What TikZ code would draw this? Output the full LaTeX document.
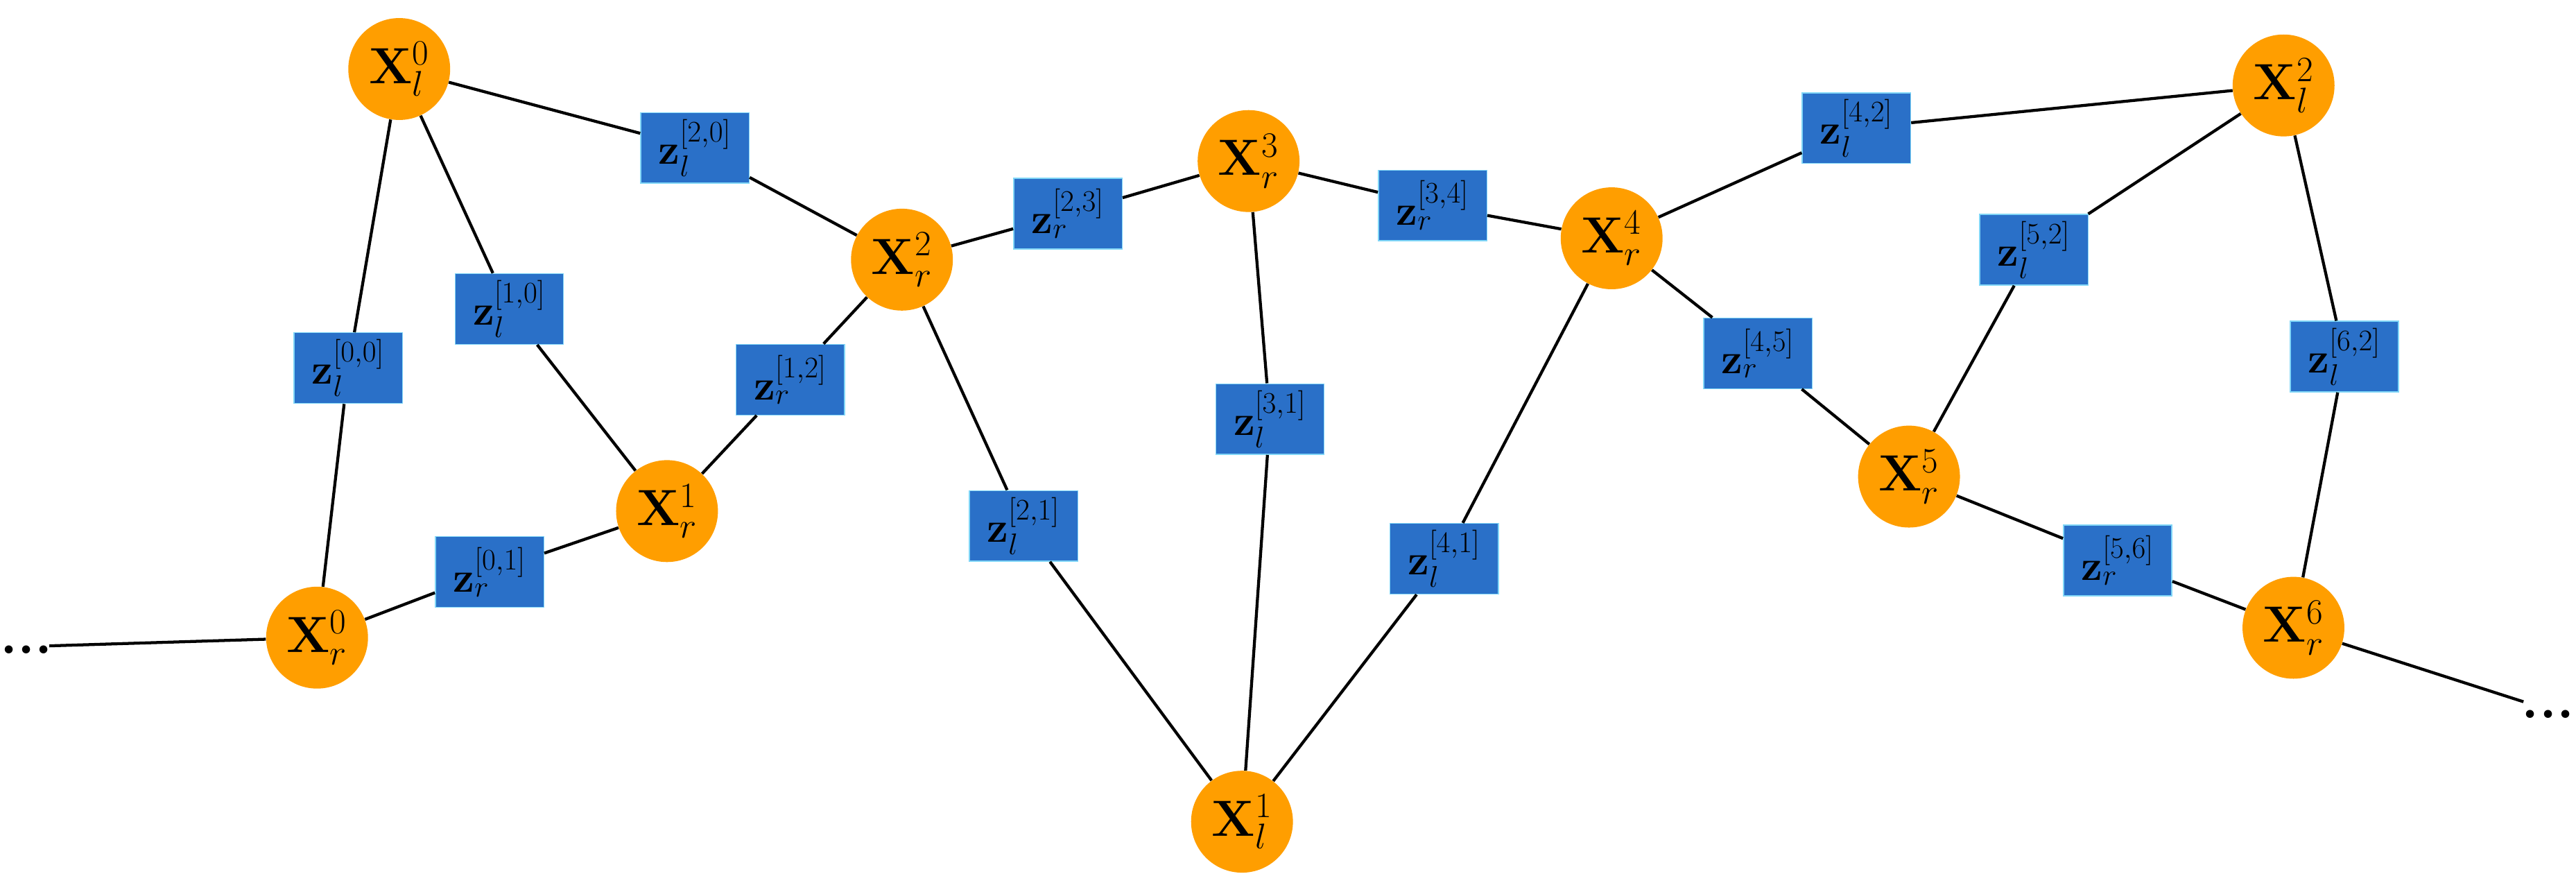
\RequirePackage{fix-cm}
\documentclass[tikz,border=0pt]{standalone}
\usepackage{amsmath}
\begin{document}
\begin{tikzpicture}[x=1pt,y=-1pt,
  v/.style={circle,fill=vorange,minimum size=62pt,inner sep=0pt,font=\fontsize{31}{34}\selectfont},
  f/.style={rectangle,fill=fblue,draw=cyan!50,line width=0.6pt,minimum width=66pt,minimum height=43pt,inner sep=0pt,font=\fontsize{26}{30}\selectfont},
  dots/.style={font=\fontsize{34}{36}\selectfont\bfseries,inner sep=0pt,anchor=base},
  e/.style={line width=1.8pt}]
\definecolor{vorange}{HTML}{FF9E00}
\definecolor{fblue}{HTML}{2A70C8}
\useasboundingbox (0,0) rectangle (1568,537);
\node[v] (Xl0) at (243,42) {$\mathbf{X}_l^0$};
\node[v] (Xr0) at (193,388) {$\mathbf{X}_r^0$};
\node[v] (Xr1) at (406,311) {$\mathbf{X}_r^1$};
\node[v] (Xr2) at (549,158) {$\mathbf{X}_r^2$};
\node[v] (Xr3) at (760,98) {$\mathbf{X}_r^3$};
\node[v] (Xr4) at (981,145) {$\mathbf{X}_r^4$};
\node[v] (Xl1) at (756,500) {$\mathbf{X}_l^1$};
\node[v] (Xl2) at (1390,52) {$\mathbf{X}_l^2$};
\node[v] (Xr5) at (1162,290) {$\mathbf{X}_r^5$};
\node[v] (Xr6) at (1396,382) {$\mathbf{X}_r^6$};
\node[f] (z20) at (423,90) {$\mathbf{z}_l^{[2,0]}$};
\node[f] (z10) at (310,188) {$\mathbf{z}_l^{[1,0]}$};
\node[f] (z00) at (212,224) {$\mathbf{z}_l^{[0,0]}$};
\node[f] (z01) at (298,348) {$\mathbf{z}_r^{[0,1]}$};
\node[f] (z12) at (481,231) {$\mathbf{z}_r^{[1,2]}$};
\node[f] (z23) at (650,130) {$\mathbf{z}_r^{[2,3]}$};
\node[f] (z34) at (872,125) {$\mathbf{z}_r^{[3,4]}$};
\node[f] (z31) at (773,255) {$\mathbf{z}_l^{[3,1]}$};
\node[f] (z21) at (623,320) {$\mathbf{z}_l^{[2,1]}$};
\node[f] (z41) at (879,340) {$\mathbf{z}_l^{[4,1]}$};
\node[f] (z42) at (1130,78) {$\mathbf{z}_l^{[4,2]}$};
\node[f] (z52) at (1238,152) {$\mathbf{z}_l^{[5,2]}$};
\node[f] (z45) at (1070,215) {$\mathbf{z}_r^{[4,5]}$};
\node[f] (z62) at (1427,217) {$\mathbf{z}_l^{[6,2]}$};
\node[f] (z56) at (1289,341) {$\mathbf{z}_r^{[5,6]}$};
\node[dots] (dl) at (16,398) {...};
\node[dots] (dr) at (1551,437) {...};
\coordinate (cl) at (30,393);
\coordinate (cr) at (1536,427);
\foreach \a/\b in {Xl0/z20,z20/Xr2,Xl0/z10,z10/Xr1,Xl0/z00,z00/Xr0,Xr0/z01,z01/Xr1,Xr1/z12,z12/Xr2,Xr2/z23,z23/Xr3,Xr3/z34,z34/Xr4,Xr3/z31,z31/Xl1,Xr2/z21,z21/Xl1,Xr4/z41,z41/Xl1,Xr4/z42,z42/Xl2,Xr4/z45,z45/Xr5,Xr5/z52,z52/Xl2,Xl2/z62,z62/Xr6,Xr5/z56,z56/Xr6,cl/Xr0,Xr6/cr}
  \draw[e] (\a) -- (\b);
\end{tikzpicture}
\end{document}
